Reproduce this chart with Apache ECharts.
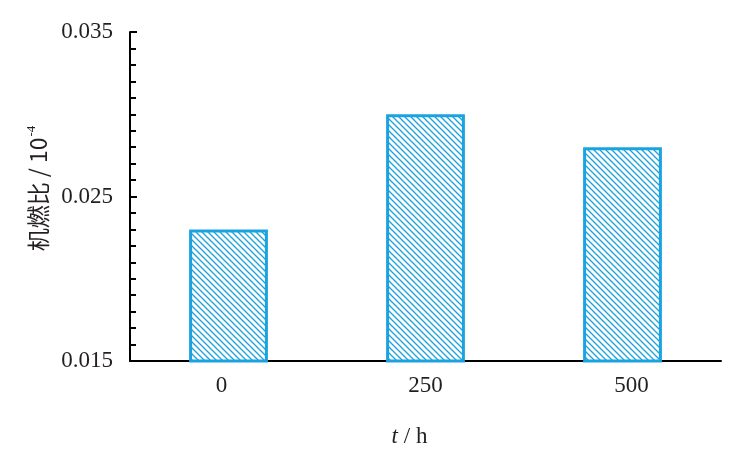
<!DOCTYPE html>
<html>
<head>
<meta charset="utf-8">
<script src="https://cdn.jsdelivr.net/npm/echarts@6/dist/echarts.min.js"></script>
<style>html,body{margin:0;padding:0;background:#fff;}#c{width:735px;height:465px;}</style>
</head>
<body>
<div id="c"></div>
<script>
var categories = ['0', '250', '500'];
var values = [0.023, 0.030, 0.028];
var yTicks = [0.015, 0.025, 0.035];

var pc = document.createElement('canvas');
pc.width = 6; pc.height = 6;
var g = pc.getContext('2d');
g.fillStyle = '#ffffff';
g.fillRect(0, 0, 6, 6);
g.strokeStyle = '#1aa0dd';
g.lineWidth = 1.3;
g.beginPath();
g.moveTo(-1, -1); g.lineTo(7, 7);
g.moveTo(-7, -1); g.lineTo(1, 7);
g.moveTo(5, -1); g.lineTo(13, 7);
g.stroke();

var chart = echarts.init(document.getElementById('c'), null, {renderer: 'canvas'});
var serif = '"Liberation Serif", "Times New Roman", serif';
var labelRich = {
  l0: {fontFamily: serif, fontSize: 23, color: '#231f20', padding: [0, 14, 0, 0]},
  l1: {fontFamily: serif, fontSize: 23, color: '#231f20', padding: [0, 0, 0, 0]},
  l2: {fontFamily: serif, fontSize: 23, color: '#231f20', padding: [0, 0, 0, 18]}
};
chart.setOption({
  animation: false,
  backgroundColor: '#fff',
  grid: {left: 130, right: 14, top: 32, bottom: 104, containLabel: false},
  xAxis: {
    type: 'category',
    data: categories,
    name: '{i|t} / h',
    nameLocation: 'middle',
    nameGap: 64,
    nameTextStyle: {
      fontFamily: serif, fontSize: 23, color: '#231f20',
      padding: [0, 32, 0, 0],
      rich: {i: {fontFamily: serif, fontStyle: 'italic', fontSize: 23, color: '#231f20'}}
    },
    axisLine: {lineStyle: {color: '#000', width: 2}},
    axisTick: {inside: true, length: 7, lineStyle: {color: '#000', width: 1.5}},
    axisLabel: {
      fontFamily: serif, fontSize: 23, color: '#231f20', margin: 13,
      formatter: function (v, i) { return '{l' + i + '|' + v + '}'; },
      rich: labelRich
    },
    splitLine: {show: false}
  },
  yAxis: {
    type: 'value',
    min: yTicks[0],
    max: yTicks[yTicks.length - 1],
    interval: 0.01,
    name: '{a|机燃比 / 10}{s|-4}',
    nameLocation: 'middle',
    nameRotate: 90,
    nameGap: 78,
    nameTextStyle: {
      color: '#231f20',
      padding: [0, 0, 0, 16],
      rich: {
        a: {fontFamily: '"Noto Sans CJK SC", ' + serif, fontSize: 23, color: '#231f20'},
        s: {fontFamily: serif, fontSize: 13, color: '#231f20', verticalAlign: 'bottom', padding: [0, 0, 14, 1]}
      }
    },
    axisLine: {show: true, lineStyle: {color: '#000', width: 2}},
    axisTick: {show: true, inside: true, length: 7, lineStyle: {color: '#000', width: 2}},
    minorTick: {show: true, splitNumber: 10, length: 6, lineStyle: {color: '#000', width: 2}},
    axisLabel: {
      fontFamily: serif, fontSize: 23, color: '#231f20', margin: 17,
      formatter: function (v) { return v.toFixed(3); }
    },
    splitLine: {show: false}
  },
  series: [{
    type: 'bar',
    data: values,
    barWidth: '40%',
    itemStyle: {
      color: {image: pc, repeat: 'repeat'},
      borderColor: '#1ba3e0',
      borderWidth: 3
    }
  }]
});
</script>
</body>
</html>
